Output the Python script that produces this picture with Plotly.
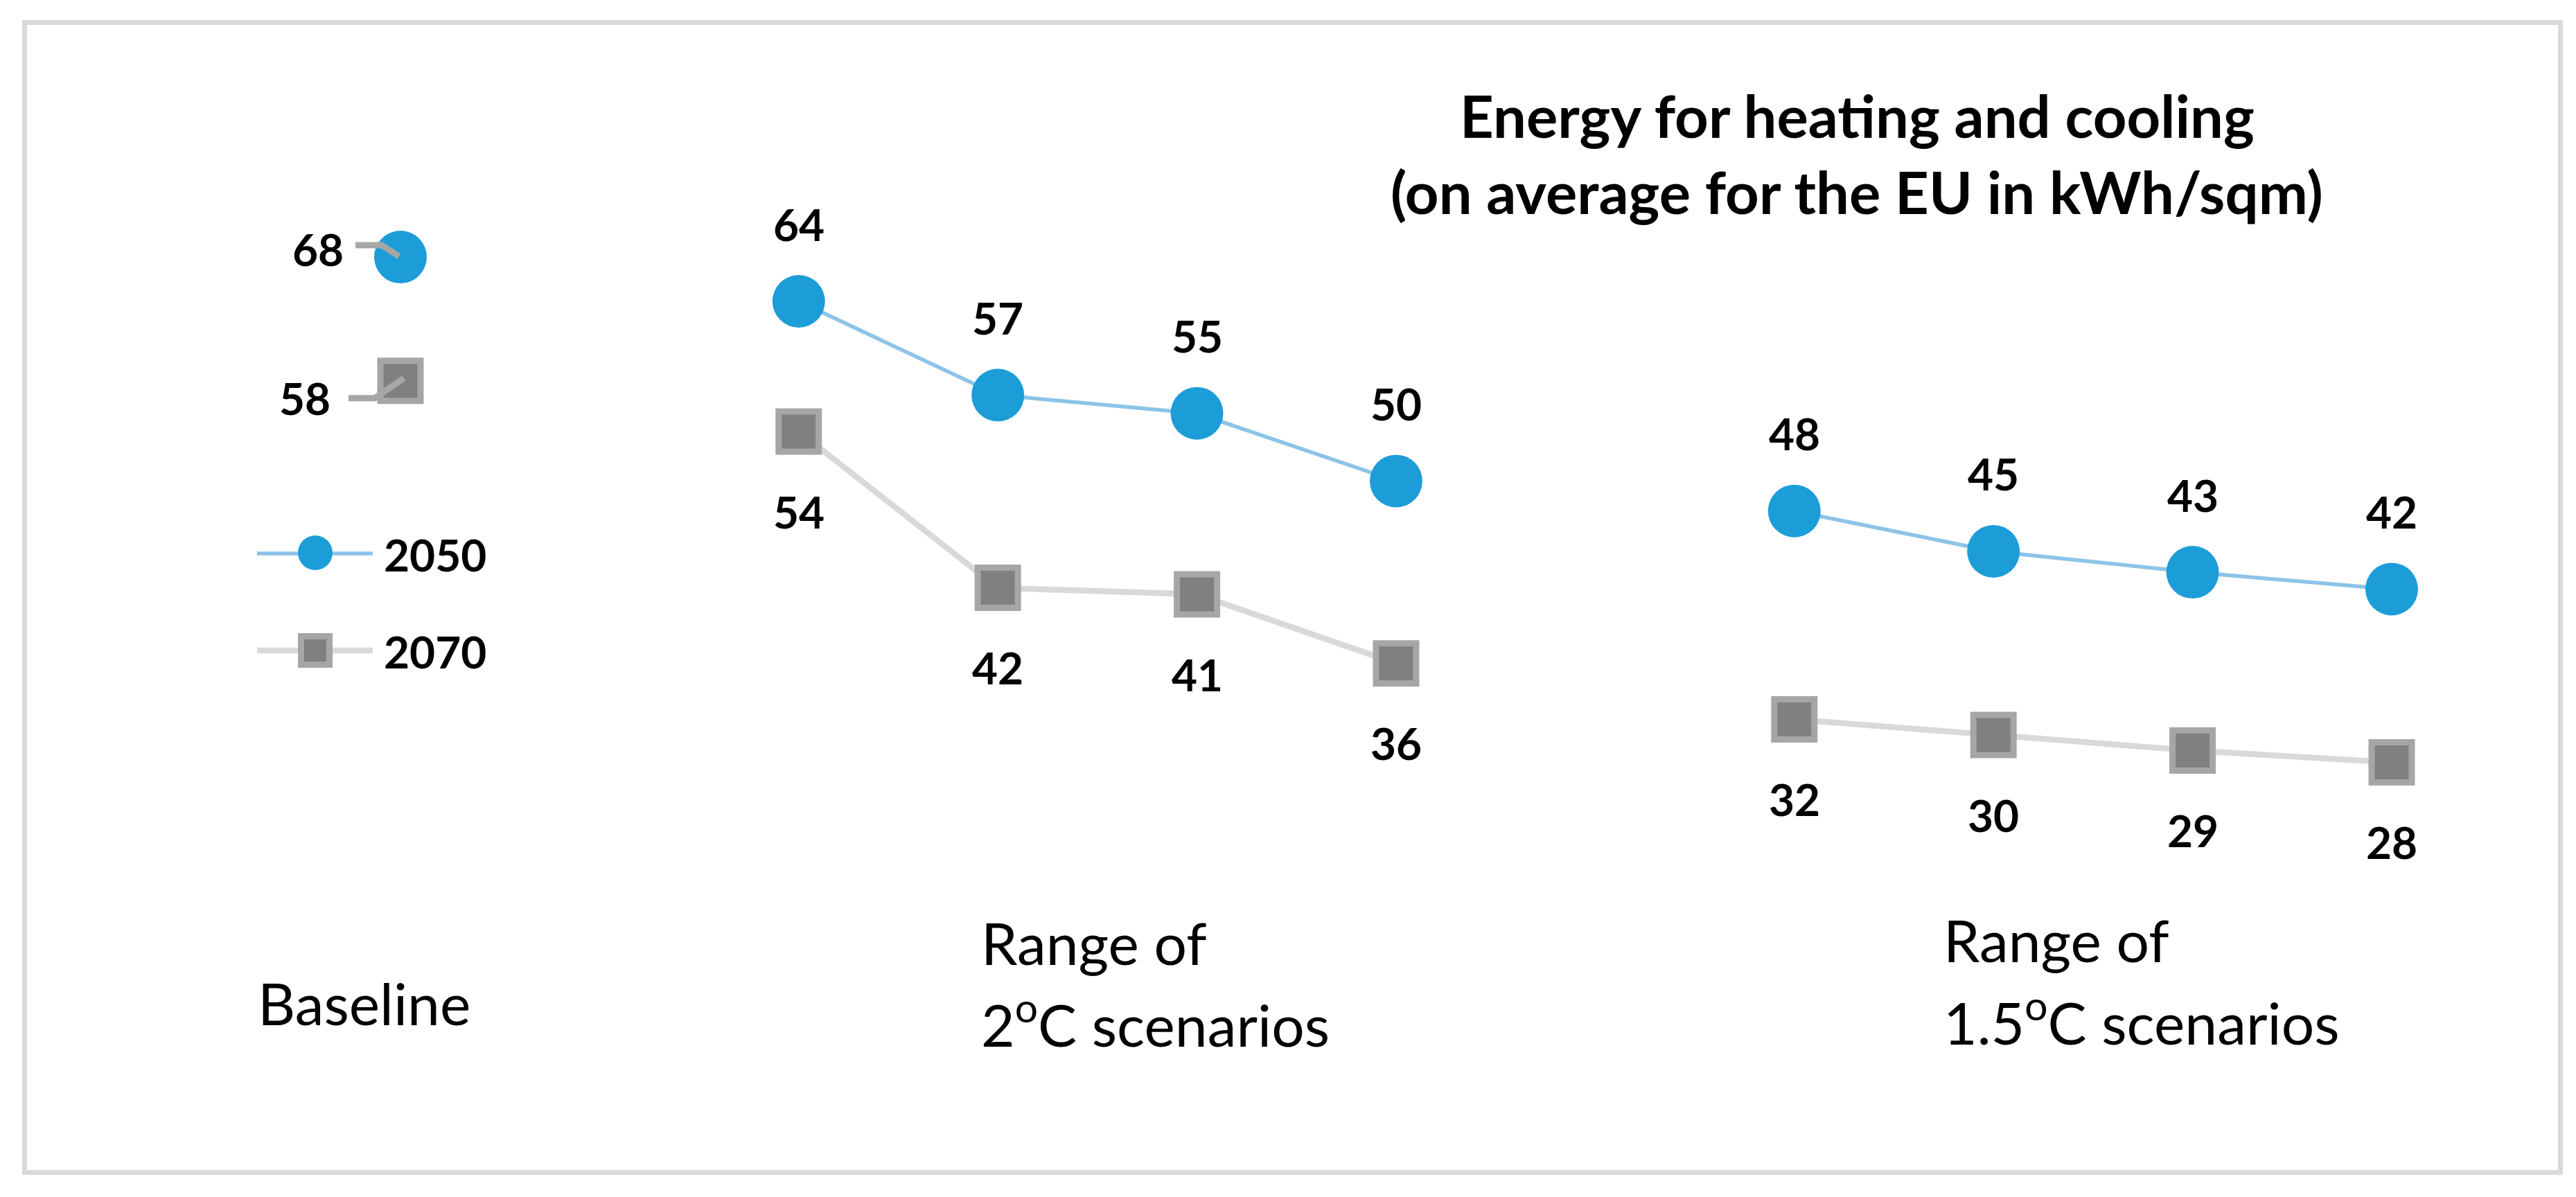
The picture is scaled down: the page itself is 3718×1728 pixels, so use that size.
import plotly.graph_objects as go

# ---------------- data ----------------
positions = list(range(11))  # 0 = Baseline, 2-5 = 2°C scenarios, 7-10 = 1.5°C scenarios
values_2050 = [67.4, None, 64.0, 56.8, 55.4, 50.2, None, 47.9, 44.8, 43.2, 41.9]
values_2070 = [57.9, None, 54.0, 42.0, 41.5, 36.2, None, 31.9, 30.7, 29.5, 28.6]
labels_2050 = ["68", "", "64", "57", "55", "50", "", "48", "45", "43", "42"]
labels_2070 = ["58", "", "54", "42", "41", "36", "", "32", "30", "29", "28"]
series_names = ["2050", "2070"]
title_lines = ["Energy for heating and cooling",
               "(on average for the EU in kWh/sqm)"]
group_labels = [["Baseline"],
                ["Range of", "2<sup>o</sup>C scenarios"],
                ["Range of", "1.5<sup>o</sup>C scenarios"]]

# ---------------- geometry / style ----------------
W, H = 3718, 1728          # target page size
OFF = 8                    # default page margin around the plot div
FW, FH = W - 2 * OFF, H - 2 * OFF
PX_PER_UNIT = 18.8
Y_MAX = 64 + (435 - OFF) / PX_PER_UNIT
Y_MIN = Y_MAX - FH / PX_PER_UNIT
X0_PX, DX_PX = 578 - OFF, 287.4
X_MIN = -X0_PX / DX_PX
X_MAX = (FW - X0_PX) / DX_PX

BLUE = "#1D9DD8"
BLUE_LINE = "#8DC3E8"
SQ_FILL = "#808080"
SQ_EDGE = "#A6A6A6"
GRAY_LINE = "#D9D9D9"
FONT = "Lato"


def px(xp):
    return (xp - OFF) / FW


def py(yp):
    return 1 - (yp - OFF) / FH


fig = go.Figure()
fig.add_trace(go.Scatter(
    x=positions, y=values_2050, name=series_names[0], mode="lines+markers",
    connectgaps=False,
    line=dict(color=BLUE_LINE, width=5.5),
    marker=dict(symbol="circle", size=76, color=BLUE, line=dict(width=0)),
))
fig.add_trace(go.Scatter(
    x=positions, y=values_2070, name=series_names[1], mode="lines+markers",
    connectgaps=False,
    line=dict(color=GRAY_LINE, width=8.5),
    marker=dict(symbol="square", size=58, color=SQ_FILL,
                line=dict(color=SQ_EDGE, width=9)),
))

annotations = []
label_font = dict(family=FONT, size=64, color="black")

# data labels
for series, labels, default_shift, base_shift in [
    (values_2050, labels_2050, (0, 112), (-119, 12)),
    (values_2070, labels_2070, (0, -115), (-138, -25)),
]:
    for i, (v, t) in enumerate(zip(series, labels)):
        if v is None or not t:
            continue
        xs, ys = base_shift if i == 0 else default_shift
        annotations.append(dict(
            x=positions[i], y=v, xref="x", yref="y", text=f"<b>{t}</b>",
            showarrow=False, xshift=xs, yshift=ys,
            xanchor="center", yanchor="middle", font=label_font))

shapes = []
# leader lines for the baseline labels
for v, path in [(values_2050[0], "M-65,17 L-27,17 L-2,1"),
                (values_2070[0], "M-75,-25 L-37,-25 L5,4")]:
    shapes.append(dict(type="path", xref="x", yref="y",
                       xsizemode="pixel", ysizemode="pixel",
                       xanchor=positions[0], yanchor=v, path=path,
                       line=dict(color=SQ_EDGE, width=9)))

# title
for line_text, yc in zip(title_lines, [166, 276]):
    annotations.append(dict(
        x=px(2680), y=py(yc), xref="paper", yref="paper",
        text=f"<b>{line_text}</b>", showarrow=False,
        xanchor="center", yanchor="middle",
        font=dict(family=FONT, size=85, color="black")))

# group (category) labels
group_pos = [(370, [1447]), (1414, [1360, 1473]), (2803, [1356, 1470])]
for lines, (xl, ycs) in zip(group_labels, group_pos):
    for t, yc in zip(lines, ycs):
        annotations.append(dict(
            x=px(xl), y=py(yc), xref="paper", yref="paper", text=t,
            showarrow=False, xanchor="left", yanchor="middle",
            font=dict(family=FONT, size=84, color="black")))

# manual legend
# 2050
shapes.append(dict(type="line", xref="paper", yref="paper",
                   x0=px(371), x1=px(538), y0=py(799), y1=py(799),
                   line=dict(color=BLUE_LINE, width=5.5)))
shapes.append(dict(type="circle", xref="paper", yref="paper",
                   x0=px(430), x1=px(480), y0=py(773), y1=py(823),
                   fillcolor=BLUE, line=dict(width=0)))
# 2070
shapes.append(dict(type="line", xref="paper", yref="paper",
                   x0=px(371), x1=px(538), y0=py(939), y1=py(939),
                   line=dict(color=GRAY_LINE, width=8.5)))
shapes.append(dict(type="rect", xref="paper", yref="paper",
                   x0=px(434.5), x1=px(475.5), y0=py(918.5), y1=py(959.5),
                   fillcolor=SQ_FILL, line=dict(color=SQ_EDGE, width=9)))
for name, yc in zip(series_names, [800, 940]):
    annotations.append(dict(
        x=px(552), y=py(yc), xref="paper", yref="paper",
        text=f"<b>{name}</b>", showarrow=False,
        xanchor="left", yanchor="middle", font=label_font))

# outer frame
shapes.append(dict(type="rect", xref="paper", yref="paper",
                   x0=px(35.5), x1=px(3695.5), y0=py(32.5), y1=py(1692.5),
                   line=dict(color=GRAY_LINE, width=7), layer="below"))

fig.update_layout(
    width=FW, height=FH,
    margin=dict(l=0, r=0, t=0, b=0),
    paper_bgcolor="white", plot_bgcolor="white",
    showlegend=False,
    xaxis=dict(visible=False, range=[X_MIN, X_MAX], fixedrange=True),
    yaxis=dict(visible=False, range=[Y_MIN, Y_MAX], fixedrange=True),
    annotations=annotations,
    shapes=shapes,
    font=dict(family=FONT),
)

fig.write_html("out.html")
